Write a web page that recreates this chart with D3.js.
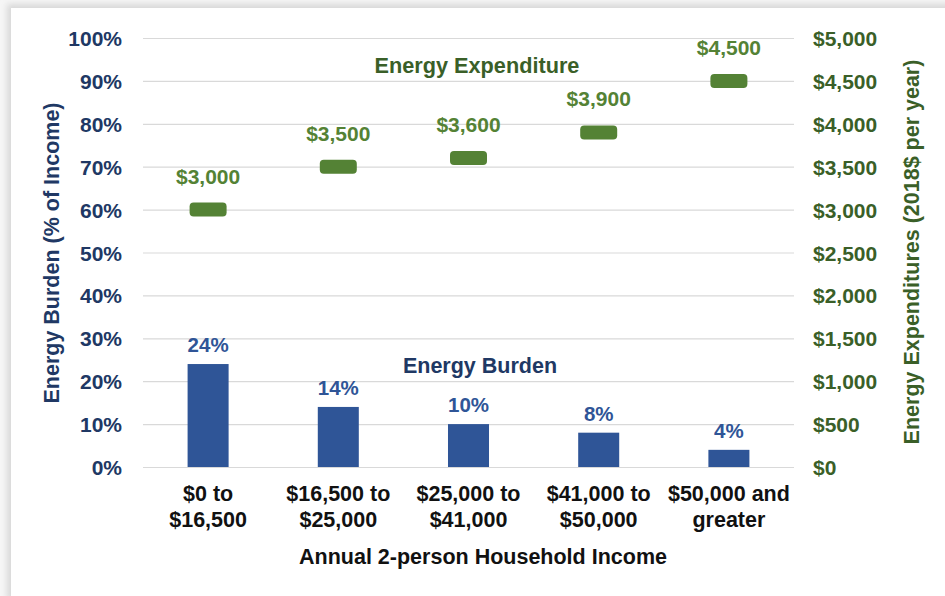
<!DOCTYPE html>
<html>
<head>
<meta charset="utf-8">
<script src="https://cdn.jsdelivr.net/npm/d3@7/dist/d3.min.js"></script>
<style>
  html, body { margin: 0; padding: 0; background: #f6f6f6; }
  svg { display: block; font-family: "Liberation Sans", Arial, sans-serif; font-weight: bold; }
</style>
</head>
<body>
<svg id="chart" width="945" height="596"></svg>
<script>
// Income brackets (two-line labels)
const categories = [
  ["$0 to", "$16,500"],
  ["$16,500 to", "$25,000"],
  ["$25,000 to", "$41,000"],
  ["$41,000 to", "$50,000"],
  ["$50,000 and", "greater"]
];
// Energy burden, % of income
const burden = [24, 14, 10, 8, 4];
// Energy expenditure, 2018$ per year
const expenditure = [3000, 3500, 3600, 3900, 4500];
// Axis ticks
const burdenTicks = [0, 10, 20, 30, 40, 50, 60, 70, 80, 90, 100];
const expenditureTicks = [0, 500, 1000, 1500, 2000, 2500, 3000, 3500, 4000, 4500, 5000];

const svg = d3.select("#chart");
const W = 945, H = 596;

// card with soft shadow
const defs = svg.append("defs");
const f = defs.append("filter").attr("id", "shadow").attr("x", "-5%").attr("y", "-5%").attr("width", "110%").attr("height", "110%");
f.append("feGaussianBlur").attr("stdDeviation", 3);
svg.append("rect").attr("x", 7).attr("y", 4).attr("width", W).attr("height", H)
  .attr("fill", "#d8d8d8").attr("filter", "url(#shadow)");
svg.append("rect").attr("x", 11).attr("y", 8).attr("width", W).attr("height", H).attr("fill", "#ffffff");

const plot = { left: 143, right: 794, top: 38, bottom: 467 };

const x = d3.scaleBand().domain(d3.range(categories.length))
  .range([plot.left, plot.right]).paddingInner(0.685).paddingOuter(0.3425);
const yL = d3.scaleLinear().domain([0, 100]).range([plot.bottom, plot.top]);
const yR = d3.scaleLinear().domain([0, 5000]).range([plot.bottom, plot.top]);

const navy = "#203864", barBlue = "#2f5597", green = "#548235", darkGreen = "#3a5f28";

// gridlines
svg.append("g").selectAll("line").data(burdenTicks).join("line")
  .attr("x1", plot.left).attr("x2", plot.right)
  .attr("y1", d => yL(d) + 0.5).attr("y2", d => yL(d) + 0.5)
  .attr("stroke", "#d9d9d9").attr("stroke-width", 1.2);

// left axis
const axL = svg.append("g").attr("transform", `translate(${plot.left},0)`)
  .call(d3.axisLeft(yL).tickValues(burdenTicks).tickFormat(d => d + "%").tickSize(0).tickPadding(21));
axL.select(".domain").remove();
axL.selectAll("text").attr("fill", navy).style("font-size", "21px").attr("dy", "0.36em");

// right axis
const axR = svg.append("g").attr("transform", `translate(${plot.right},0)`)
  .call(d3.axisRight(yR).tickValues(expenditureTicks).tickFormat(d => "$" + d3.format(",")(d)).tickSize(0).tickPadding(19));
axR.select(".domain").remove();
axR.selectAll("text").attr("fill", darkGreen).style("font-size", "21px").attr("dy", "0.36em");

// bars
svg.append("g").selectAll("rect").data(burden).join("rect")
  .attr("x", (d, i) => x(i)).attr("width", x.bandwidth())
  .attr("y", d => yL(d)).attr("height", d => yL(0) - yL(d))
  .attr("fill", barBlue);

svg.append("g").selectAll("text").data(burden).join("text")
  .attr("x", (d, i) => x(i) + x.bandwidth() / 2)
  .attr("y", d => yL(d) - 12)
  .attr("text-anchor", "middle").attr("fill", barBlue).style("font-size", "20.5px")
  .text(d => d + "%");

// expenditure markers
const mw = 37, mh = 14;
svg.append("g").selectAll("rect").data(expenditure).join("rect")
  .attr("x", (d, i) => x(i) + x.bandwidth() / 2 - mw / 2)
  .attr("y", d => yR(d) - mh / 2)
  .attr("width", mw).attr("height", mh).attr("rx", 4)
  .attr("fill", green);

svg.append("g").selectAll("text").data(expenditure).join("text")
  .attr("x", (d, i) => x(i) + x.bandwidth() / 2)
  .attr("y", d => yR(d) - 26)
  .attr("text-anchor", "middle").attr("fill", green).style("font-size", "21px")
  .text(d => "$" + d3.format(",")(d));

// series labels
svg.append("text").attr("x", 477).attr("y", 73).attr("text-anchor", "middle")
  .attr("fill", darkGreen).style("font-size", "21.7px").text("Energy Expenditure");
svg.append("text").attr("x", 480).attr("y", 373).attr("text-anchor", "middle")
  .attr("fill", navy).style("font-size", "21.5px").text("Energy Burden");

// category labels
const cat = svg.append("g").selectAll("text").data(categories).join("text")
  .attr("text-anchor", "middle").attr("fill", "#111").style("font-size", "21.5px");
cat.each(function(d, i) {
  const t = d3.select(this);
  const cx = x(i) + x.bandwidth() / 2;
  d.forEach((line, j) => {
    t.append("tspan").attr("x", cx).attr("y", 501 + j * 25.5).text(line);
  });
});

// axis titles
svg.append("text").attr("x", 483).attr("y", 564).attr("text-anchor", "middle")
  .attr("fill", "#111").style("font-size", "21.5px")
  .text("Annual 2-person Household Income");

svg.append("text").attr("transform", "translate(59,253) rotate(-90)")
  .attr("text-anchor", "middle").attr("fill", navy).style("font-size", "21.5px")
  .text("Energy Burden (% of Income)");

svg.append("text").attr("transform", "translate(919,252) rotate(-90)")
  .attr("text-anchor", "middle").attr("fill", darkGreen).style("font-size", "21.5px")
  .text("Energy Expenditures (2018$ per year)");
</script>
</body>
</html>
